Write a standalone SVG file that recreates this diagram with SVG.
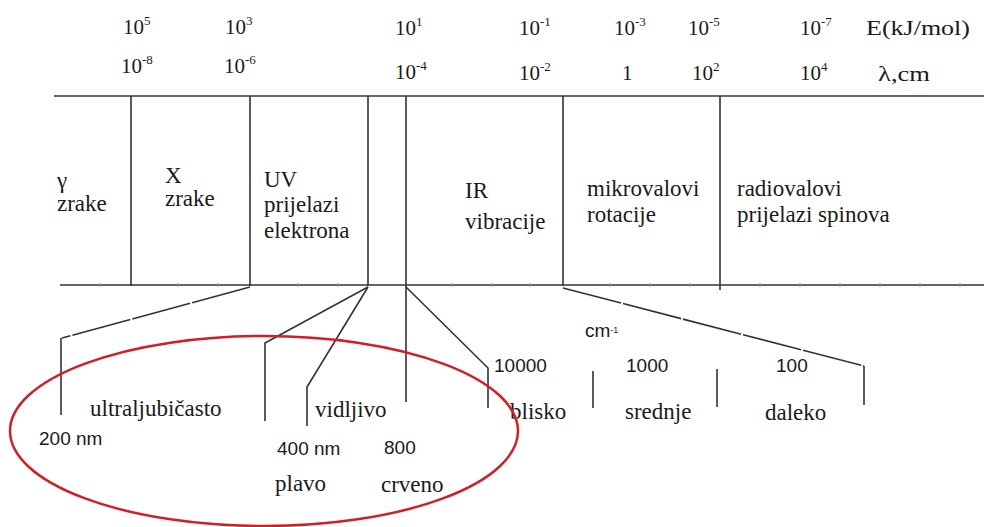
<svg xmlns="http://www.w3.org/2000/svg" width="984" height="527" viewBox="0 0 984 527">
<style>
.lbl{font-family:"Liberation Serif","DejaVu Serif",serif;font-size:23px;fill:#1a1a1a}
.num{font-family:"Liberation Serif","DejaVu Serif",serif;font-size:21px;fill:#1a1a1a}
.sup{font-size:13px}
.sans{font-family:"Liberation Sans","DejaVu Sans",sans-serif;font-size:19px;fill:#1a1a1a}
.ln{stroke:#333;stroke-width:1.6;fill:none}
.dl{stroke:#333;stroke-width:1.6;fill:none;stroke-dasharray:60 2}
.tk{stroke:#999;stroke-width:1}
</style>
<rect width="984" height="527" fill="#fff"/>
<g id="scale-energy">
<text class="num" x="123" y="34">10<tspan class="sup" dy="-9">5</tspan></text>
<text class="num" x="225" y="34">10<tspan class="sup" dy="-9">3</tspan></text>
<text class="num" x="395" y="35">10<tspan class="sup" dy="-9">1</tspan></text>
<text class="num" x="519" y="35">10<tspan class="sup" dy="-9">-1</tspan></text>
<text class="num" x="614" y="35">10<tspan class="sup" dy="-9">-3</tspan></text>
<text class="num" x="688" y="35">10<tspan class="sup" dy="-9">-5</tspan></text>
<text class="num" x="800" y="35">10<tspan class="sup" dy="-9">-7</tspan></text>
<text class="num" x="866" y="35" textLength="104" lengthAdjust="spacingAndGlyphs">E(kJ/mol)</text>
</g>
<g id="scale-wavelength">
<text class="num" x="121" y="73">10<tspan class="sup" dy="-9">-8</tspan></text>
<text class="num" x="224" y="73">10<tspan class="sup" dy="-9">-6</tspan></text>
<text class="num" x="395" y="79">10<tspan class="sup" dy="-9">-4</tspan></text>
<text class="num" x="519" y="80">10<tspan class="sup" dy="-9">-2</tspan></text>
<text class="num" x="622" y="80">1</text>
<text class="num" x="692" y="80">10<tspan class="sup" dy="-9">2</tspan></text>
<text class="num" x="800" y="80">10<tspan class="sup" dy="-9">4</tspan></text>
<text class="num" x="878" y="81" textLength="52" lengthAdjust="spacingAndGlyphs">λ,cm</text>
</g>
<g id="frame">
<line class="ln" x1="54" y1="96" x2="984" y2="96" stroke-width="2"/>
<line class="ln" x1="60" y1="285" x2="984" y2="285" stroke-width="2"/>
<line class="ln" x1="131" y1="96" x2="131" y2="286"/>
<line class="ln" x1="250" y1="96" x2="250" y2="286"/>
<line class="ln" x1="368" y1="96" x2="368" y2="286"/>
<line class="ln" x1="406" y1="96" x2="406" y2="402"/>
<line class="ln" x1="563" y1="96" x2="563" y2="286"/>
<line class="ln" x1="720" y1="96" x2="720" y2="290"/>
<path class="tk" d="M100 283v4M178 283v4M218 283v4M298 283v4M338 283v4M452 283v4M492 283v4M530 283v4M610 283v4M650 283v4M690 283v4M760 283v4M800 283v4M840 283v4M880 283v4M920 283v4M960 283v4"/>
</g>
<g id="gamma"><text class="lbl" x="57" y="188">γ</text><text class="lbl" x="57" y="211">zrake</text></g>
<g id="xray"><text class="lbl" x="165" y="183">X</text><text class="lbl" x="165" y="206">zrake</text></g>
<g id="uv"><text class="lbl" x="264" y="187">UV</text><text class="lbl" x="264" y="212">prijelazi</text><text class="lbl" x="264" y="238">elektrona</text></g>
<g id="ir"><text class="lbl" x="465" y="198">IR</text><text class="lbl" x="465" y="229">vibracije</text></g>
<g id="micro"><text class="lbl" x="587" y="196">mikrovalovi</text><text class="lbl" x="587" y="222">rotacije</text></g>
<g id="radio"><text class="lbl" x="737" y="196">radiovalovi</text><text class="lbl" x="737" y="222">prijelazi spinova</text></g>
<g id="connectors">
<path class="dl" d="M250 287 L62 338"/>
<path class="ln" d="M61 338 V415"/>
<path class="ln" d="M368 287 L265 343 V421"/>
<path class="ln" d="M368 287 L307 387 V426"/>
<path class="ln" d="M406 287 L488 368 V408"/>
<path class="dl" d="M563 288 L864 366"/>
<path class="ln" d="M864 366 V405"/>
<line class="ln" x1="593" y1="371" x2="593" y2="408"/>
<line class="ln" x1="717" y1="369" x2="717" y2="407"/>
</g>
<g id="uv-vis">
<text class="lbl" x="90" y="416">ultraljubičasto</text>
<text class="lbl" x="315" y="417">vidljivo</text>
<text class="sans" x="39" y="445">200 nm</text>
<text class="sans" x="277" y="455">400 nm</text>
<text class="sans" x="384" y="454">800</text>
<text class="lbl" x="275" y="491">plavo</text>
<text class="lbl" x="381" y="492">crveno</text>
</g>
<g id="ir-detail">
<text class="sans" x="585" y="337" font-size="12">cm<tspan font-size="9" dy="-4">-1</tspan></text>
<text class="sans" x="494" y="372">10000</text>
<text class="sans" x="626" y="372">1000</text>
<text class="sans" x="776" y="372">100</text>
<text class="lbl" x="510" y="419">blisko</text>
<text class="lbl" x="625" y="419">srednje</text>
<text class="lbl" x="765" y="420">daleko</text>
</g>
<g id="highlight">
<ellipse cx="264" cy="431" rx="254" ry="95" fill="none" stroke="#d01f25" stroke-width="2.5"/>
</g>
</svg>
